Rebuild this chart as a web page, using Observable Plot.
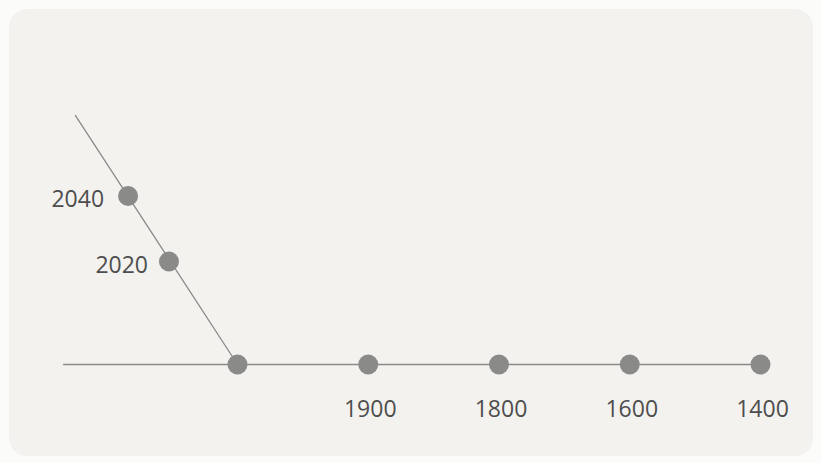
<!DOCTYPE html>
<html>
<head>
<meta charset="utf-8">
<script src="https://cdn.jsdelivr.net/npm/d3@7"></script>
<script src="https://cdn.jsdelivr.net/npm/@observablehq/plot@0.6"></script>
<style>
  html, body { margin: 0; padding: 0; background: #fbfbfa; }
  #wrap { position: relative; width: 821px; height: 463px; overflow: hidden; }
  #panel { position: absolute; left: 9px; top: 9px; width: 804px; height: 447px;
           background: #f3f2ef; border-radius: 18px; }
  #chart { position: absolute; left: 0; top: 0; }
  #chart svg { background: transparent; }
</style>
</head>
<body>
<div id="wrap"><div id="panel"></div><div id="chart"></div></div>
<script>
// Past eras along the horizontal timeline (step index from the corner)
const pastLabels = ["", "1900", "1800", "1600", "1400"];
const pastPos = [0, 1, 2, 3, 4];
// Future points on the rising branch
const futureLabels = ["2020", "2040"];
const futureX = [-0.524, -0.837];
const futureY = [0.788, 1.289];
// Line end points
const horizLine = [{x: -1.33, y: 0}, {x: 4, y: 0}];
const diagLine = [{x: 0, y: 0}, {x: -1.239, y: 1.904}];

const past = pastPos.map((p, i) => ({x: p, y: 0, label: pastLabels[i]}));
const future = futureLabels.map((l, i) => ({x: futureX[i], y: futureY[i], label: l}));

const font = "'Open Sans', 'Noto Sans', sans-serif";
const gray = "#8a8a88";
const textStyle = {x: "x", y: "y", text: "label", fontSize: 23, fill: "#4e4e4e"};

const chart = Plot.plot({
  width: 821,
  height: 463,
  margin: 0,
  x: {domain: [-1.8126, 4.4665], axis: null},
  y: {domain: [-0.7572, 2.784], axis: null},
  style: {background: "transparent", fontFamily: font},
  marks: [
    Plot.line(horizLine, {x: "x", y: "y", stroke: gray, strokeWidth: 1.3}),
    Plot.line(diagLine, {x: "x", y: "y", stroke: gray, strokeWidth: 1.3}),
    Plot.dot(past, {x: "x", y: "y", r: 10, fill: gray, stroke: "none"}),
    Plot.dot(future, {x: "x", y: "y", r: 10, fill: gray, stroke: "none"}),
    Plot.text(past.filter(d => d.label), {...textStyle, dy: 45, dx: 2, textAnchor: "middle"}),
    Plot.text(future.filter(d => d.label === "2020"), {...textStyle, dx: -21, dy: 4, textAnchor: "end"}),
    Plot.text(future.filter(d => d.label === "2040"), {...textStyle, dx: -24, dy: 4, textAnchor: "end"})
  ]
});
document.getElementById("chart").appendChild(chart);
</script>
</body>
</html>
